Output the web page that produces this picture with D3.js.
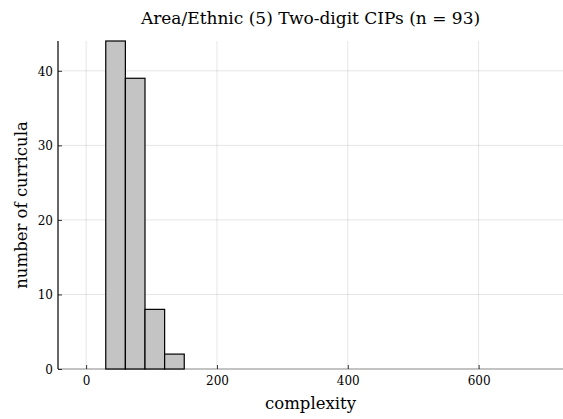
<!DOCTYPE html>
<html>
<head>
<meta charset="utf-8">
<script src="https://cdn.jsdelivr.net/npm/d3@7"></script>
<style>
  html, body { margin: 0; padding: 0; background: #fff; }
  svg { display: block; }
  text { font-family: "DejaVu Serif", "Liberation Serif", serif; fill: #000; }
</style>
</head>
<body>
<svg id="chart" width="563" height="419"></svg>
<script>
// Histogram bins: lower edges and counts (bin width 30)
const binStarts = [30, 60, 90, 120, 150, 180, 210, 240, 270, 300, 330, 360, 390, 420, 450, 480, 510, 540, 570, 600, 630, 660];
const binWidth = 30;
const counts = [44, 39, 8, 2, 0, 0, 0, 0, 0, 0, 0, 0, 0, 0, 0, 0, 0, 0, 0, 0, 0, 0];
const xTicks = [0, 200, 400, 600];
const yTicks = [0, 10, 20, 30, 40];
const title = "Area/Ethnic (5) Two-digit CIPs (n = 93)";
const xLabel = "complexity";
const yLabel = "number of curricula";

const svg = d3.select("#chart");
const W = 563, H = 419;
const m = { left: 58, right: 0, top: 41, bottom: 50 };

const x = d3.scaleLinear().domain([-43, 729]).range([m.left, W - m.right]);
const y = d3.scaleLinear().domain([0, 44]).range([H - m.bottom, m.top]);

// grid
const grid = svg.append("g").attr("stroke", "#000").attr("stroke-opacity", 0.1).attr("stroke-width", 1);
grid.selectAll(".vx").data(xTicks).join("line")
  .attr("x1", d => x(d)).attr("x2", d => x(d))
  .attr("y1", y(0)).attr("y2", m.top);
grid.selectAll(".hy").data(yTicks.filter(d => d > 0)).join("line")
  .attr("x1", m.left).attr("x2", W - m.right)
  .attr("y1", d => y(d)).attr("y2", d => y(d));

// axes (inward ticks, no right/top frame)
const xAxis = svg.append("g").attr("transform", `translate(0,${y(0)})`)
  .call(d3.axisBottom(x).tickValues(xTicks).tickSize(-4).tickPadding(7).tickFormat(d3.format("d")));
const yAxis = svg.append("g").attr("transform", `translate(${m.left},0)`)
  .call(d3.axisLeft(y).tickValues(yTicks).tickSize(-4).tickPadding(5).tickFormat(d3.format("d")));
[xAxis, yAxis].forEach(a => {
  a.selectAll(".tick line").attr("stroke", "#000").attr("stroke-width", 0.8);
  a.selectAll(".tick text").attr("font-size", 12).attr("font-family", "'DejaVu Serif', serif").attr("fill", "#000");
});
xAxis.select(".domain").attr("d", `M${m.left},0H${W}`).attr("stroke", "#888").attr("stroke-width", 1.2);
yAxis.select(".domain").attr("d", `M0,${y(0)}V${m.top}`).attr("stroke", "#000").attr("stroke-width", 1.2);
yAxis.selectAll(".tick text").attr("dy", "0.35em");

// bars
const bins = binStarts.map((s, i) => ({ x0: s, x1: s + binWidth, n: counts[i] }));
svg.append("g").selectAll("rect").data(bins).join("rect")
  .attr("x", d => x(d.x0))
  .attr("width", d => x(d.x1) - x(d.x0))
  .attr("y", d => y(d.n))
  .attr("height", d => y(0) - y(d.n))
  .attr("fill", "#c4c4c4")
  .attr("stroke", "#000")
  .attr("stroke-width", 1.2);

// labels
svg.append("text").attr("x", (m.left + W) / 2).attr("y", 24)
  .attr("text-anchor", "middle").attr("font-size", 17).text(title);
svg.append("text").attr("x", x(343)).attr("y", 409)
  .attr("text-anchor", "middle").attr("font-size", 16.5).text(xLabel);
svg.append("text").attr("transform", `translate(27,${(m.top + y(0)) / 2}) rotate(-90)`)
  .attr("text-anchor", "middle").attr("font-size", 16.5).text(yLabel);
</script>
</body>
</html>
